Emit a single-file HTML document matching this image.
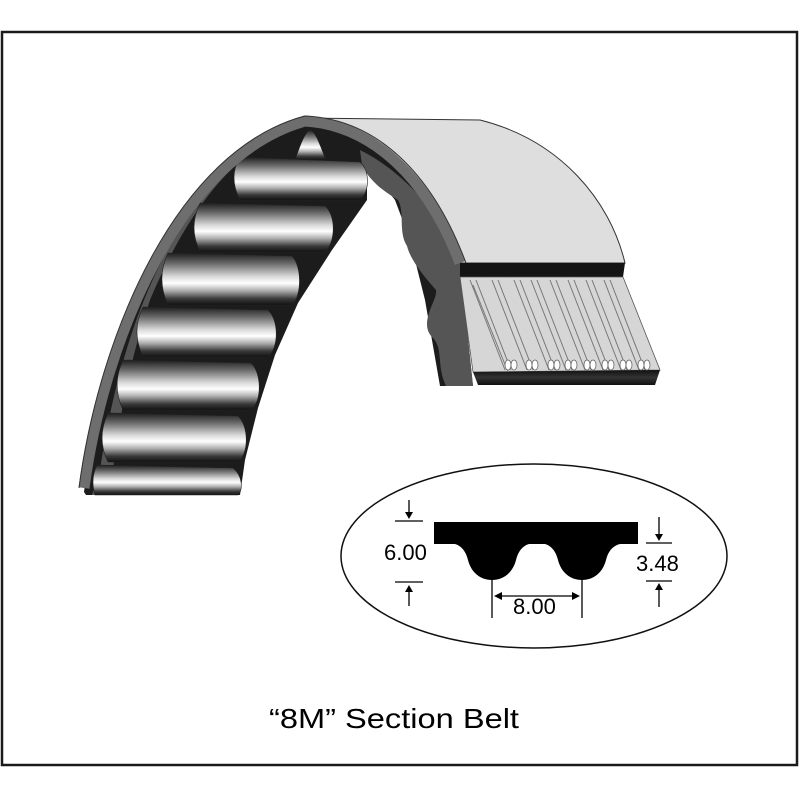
<!DOCTYPE html>
<html><head><meta charset="utf-8"><style>
html,body{margin:0;padding:0;background:#fff;}
svg{display:block;}
</style></head><body>
<svg width="800" height="800" viewBox="0 0 800 800" xmlns="http://www.w3.org/2000/svg">
<defs>
<linearGradient id="bar" x1="0" y1="0" x2="0" y2="1">
<stop offset="0" stop-color="#1e1e1e"/>
<stop offset="0.2" stop-color="#6a6a6a"/>
<stop offset="0.45" stop-color="#d8d8d8"/>
<stop offset="0.58" stop-color="#ffffff"/>
<stop offset="0.72" stop-color="#b0b0b0"/>
<stop offset="0.88" stop-color="#3a3a3a"/>
<stop offset="1" stop-color="#111"/>
</linearGradient>
<linearGradient id="band" x1="0" y1="0" x2="0" y2="1">
<stop offset="0" stop-color="#111"/><stop offset="0.5" stop-color="#333"/><stop offset="1" stop-color="#111"/>
</linearGradient>
</defs>
<rect x="2" y="32" width="795" height="733" fill="#fff" stroke="#1a1a1a" stroke-width="2.5"/>

<path d="M300,118 L480,120 C560,140 610,200 625,263 L458,263 C430,200 380,135 300,118 Z" fill="#dedede" stroke="#333" stroke-width="1"/>

<path d="M84,492 C104,338 180,156 305,121 C372,125 428,178 460,263 L473,386 L440,386 L425,300 L410,240 L395,200 L367,165 L367,200 L332,250 L298,303 L275,355 L258,408 L245,460 L240,495 L86,495 Z" fill="#1c1c1c"/>
<path d="M360,150 C400,170 440,210 460,263 L473,386 L446,386 C436,365 444,348 432,337 C418,322 438,300 436,290 C420,272 410,258 407,246 C398,232 405,212 398,200 C385,192 370,182 362,165 Z" fill="#555"/>
<path d="M300,127 C250,140 200,190 170,245 C140,300 115,370 100,470 L92,495 L110,495 C118,420 130,360 150,300 C175,240 210,180 260,145 Z" fill="#555"/>

<g fill="url(#bar)" stroke="#222" stroke-width="0.6">
<path d="M295,160 C300,145 305,132 310,130 C316,132 320,145 326,160 Z"/>
<path d="M240,157 L360,162 C370,170 370,192 360,200 L240,200 C232,185 232,170 240,157 Z"/>
<path d="M200,203 L325,206 C336,215 336,242 325,252 L200,252 C192,235 192,220 200,203 Z"/>
<path d="M168,253 L292,256 C302,266 302,296 292,305 L168,305 C160,288 160,270 168,253 Z"/>
<path d="M143,307 L268,310 C279,320 279,348 268,357 L143,357 C135,340 135,323 143,307 Z"/>
<path d="M123,360 L251,363 C262,373 262,402 251,410 L123,410 C115,393 115,377 123,360 Z"/>
<path d="M108,413 L238,416 C249,426 249,454 238,462 L108,462 C100,446 100,430 108,413 Z"/>
<path d="M97,465 L233,468 C243,476 243,490 238,495 L95,495 C92,485 92,475 97,465 Z"/>
</g>

<path d="M84,488 C104,338 180,156 305,121 C372,125 428,178 460,263" fill="none" stroke="#6e6e6e" stroke-width="11"/>
<path d="M79,488 C99,336 176,150 305,116 C376,119 432,172 466,263" fill="none" stroke="#333" stroke-width="1"/>

<path d="M460,263 L625,263 L623,277 L460,277 Z" fill="#141414"/>
<path d="M460,277 L623,277 L660,370 L473,372 Z" fill="#d6d6d6" stroke="#555" stroke-width="0.8"/>
<path d="M473,372 L660,370 L655,385 L478,385 Z" fill="url(#band)"/>
<g fill="none" stroke="#777" stroke-width="1">
<path d="M470,280 L505,370 M476,280 L511,370 M473,285 L508,372"/>
<path d="M492,280 L527,370 M498,280 L533,370"/>
<path d="M514,280 L549,370 M520,280 L555,370"/>
<path d="M531,280 L566,370 M537,280 L572,370"/>
<path d="M550,280 L585,370 M556,280 L591,370"/>
<path d="M568,280 L603,370 M574,280 L609,370"/>
<path d="M586,280 L621,370 M592,280 L627,370"/>
<path d="M604,280 L639,370 M610,280 L645,370"/>
</g>
<g fill="#fff" stroke="#666" stroke-width="0.8">
<ellipse cx="508" cy="365" rx="3" ry="5"/><ellipse cx="514" cy="365" rx="3" ry="5"/>
<ellipse cx="529" cy="365" rx="3" ry="5"/><ellipse cx="535" cy="365" rx="3" ry="5"/>
<ellipse cx="551" cy="365" rx="3" ry="5"/><ellipse cx="557" cy="365" rx="3" ry="5"/>
<ellipse cx="568" cy="365" rx="3" ry="5"/><ellipse cx="574" cy="365" rx="3" ry="5"/>
<ellipse cx="587" cy="365" rx="3" ry="5"/><ellipse cx="593" cy="365" rx="3" ry="5"/>
<ellipse cx="605" cy="365" rx="3" ry="5"/><ellipse cx="611" cy="365" rx="3" ry="5"/>
<ellipse cx="623" cy="365" rx="3" ry="5"/><ellipse cx="629" cy="365" rx="3" ry="5"/>
<ellipse cx="641" cy="365" rx="3" ry="5"/><ellipse cx="647" cy="365" rx="3" ry="5"/>
</g>

<ellipse cx="534" cy="556" rx="193" ry="92" fill="#fff" stroke="#111" stroke-width="1.5"/>
<path d="M434,522 L638,522 L638,544 L620,544 C612,546 608,552 606,560 C603,572 594,580 582,580 C570,580 561,572 558,560 C556,552 552,546 545,544 L529,544 C522,546 518,552 516,560 C513,572 504,580 492,580 C480,580 471,572 468,560 C466,552 462,546 455,544 L434,544 Z" fill="#000"/>
<g stroke="#000" stroke-width="1.3" fill="none">
<path d="M395,521 L423,521 M395,582 L423,582"/>
<path d="M409,500 L409,516 M409,588 L409,606"/>
<path d="M646,543 L672,543 M646,581 L672,581"/>
<path d="M659,517 L659,538 M659,586 L659,607"/>
<path d="M492,580 L492,618 M582,580 L582,618"/>
<path d="M497,596 L577,596"/>
</g>
<g fill="#000">
<path d="M405,512 L413,512 L409,519 Z"/>
<path d="M405,592 L413,592 L409,585 Z"/>
<path d="M655,534 L663,534 L659,541 Z"/>
<path d="M655,590 L663,590 L659,583 Z"/>
<path d="M494,596 L502,592 L502,600 Z"/>
<path d="M580,596 L572,592 L572,600 Z"/>
</g>
<g font-family="Liberation Sans, sans-serif" font-size="22" fill="#000">
<text x="384" y="560">6.00</text>
<text x="636" y="571">3.48</text>
<text x="513" y="614">8.00</text>
</g>
<text x="269" y="728" textLength="250" lengthAdjust="spacingAndGlyphs" font-family="Liberation Sans, sans-serif" font-size="28" fill="#000">“8M” Section Belt</text>
</svg>
</body></html>
